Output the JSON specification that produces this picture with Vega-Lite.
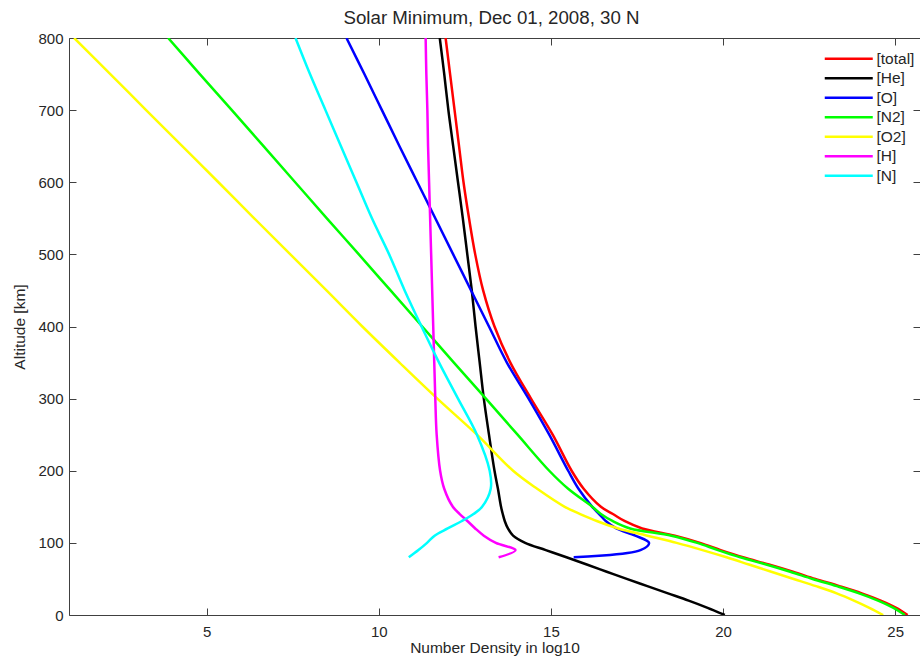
{
  "$schema": "https://vega.github.io/schema/vega-lite/v6.json",
  "autosize": {"type": "none"},
  "padding": {"left": 69, "top": 38, "right": 0, "bottom": 42},
  "width": 851,
  "height": 577,
  "background": "white",
  "config": {
    "view": {"stroke": null},
    "font": "Liberation Sans",
    "axis": {
      "domainColor": "#404040",
      "tickColor": "#404040",
      "labelColor": "#262626",
      "titleColor": "#262626",
      "labelFont": "Liberation Sans",
      "titleFont": "Liberation Sans",
      "labelFontSize": 15,
      "titleFontSize": 15.5,
      "titleFontWeight": "normal",
      "grid": false,
      "domainWidth": 1,
      "tickWidth": 1,
      "tickSize": -7
    }
  },
  "title": {
    "text": "Solar Minimum, Dec 01, 2008, 30 N",
    "font": "Liberation Sans",
    "fontSize": 18.7,
    "fontWeight": "normal",
    "color": "#262626",
    "frame": "group",
    "offset": 3,
    "dx": -3
  },
  "data": {
    "values": [
      {"s": "[total]", "alt": 0, "v": 25.36}, {"s": "[total]", "alt": 10, "v": 25.03}, {"s": "[total]", "alt": 20, "v": 24.58},
      {"s": "[total]", "alt": 30, "v": 24.03}, {"s": "[total]", "alt": 40, "v": 23.38}, {"s": "[total]", "alt": 50, "v": 22.68},
      {"s": "[total]", "alt": 60, "v": 22.03}, {"s": "[total]", "alt": 70, "v": 21.33}, {"s": "[total]", "alt": 80, "v": 20.58},
      {"s": "[total]", "alt": 90, "v": 19.93}, {"s": "[total]", "alt": 100, "v": 19.33}, {"s": "[total]", "alt": 110, "v": 18.6},
      {"s": "[total]", "alt": 120, "v": 17.65}, {"s": "[total]", "alt": 130, "v": 17.15}, {"s": "[total]", "alt": 140, "v": 16.8},
      {"s": "[total]", "alt": 150, "v": 16.45}, {"s": "[total]", "alt": 175, "v": 15.95}, {"s": "[total]", "alt": 200, "v": 15.6},
      {"s": "[total]", "alt": 250, "v": 15.05}, {"s": "[total]", "alt": 300, "v": 14.42}, {"s": "[total]", "alt": 350, "v": 13.82},
      {"s": "[total]", "alt": 400, "v": 13.36}, {"s": "[total]", "alt": 450, "v": 13.03}, {"s": "[total]", "alt": 500, "v": 12.8},
      {"s": "[total]", "alt": 550, "v": 12.62}, {"s": "[total]", "alt": 600, "v": 12.46}, {"s": "[total]", "alt": 650, "v": 12.33},
      {"s": "[total]", "alt": 700, "v": 12.2}, {"s": "[total]", "alt": 750, "v": 12.07}, {"s": "[total]", "alt": 800, "v": 11.94},

      {"s": "[He]", "alt": 0, "v": 20.05}, {"s": "[He]", "alt": 10, "v": 19.55}, {"s": "[He]", "alt": 20, "v": 19.0},
      {"s": "[He]", "alt": 30, "v": 18.4}, {"s": "[He]", "alt": 40, "v": 17.8}, {"s": "[He]", "alt": 50, "v": 17.2},
      {"s": "[He]", "alt": 60, "v": 16.62}, {"s": "[He]", "alt": 70, "v": 16.04}, {"s": "[He]", "alt": 80, "v": 15.45},
      {"s": "[He]", "alt": 90, "v": 14.85}, {"s": "[He]", "alt": 100, "v": 14.25}, {"s": "[He]", "alt": 110, "v": 13.9},
      {"s": "[He]", "alt": 120, "v": 13.75}, {"s": "[He]", "alt": 130, "v": 13.66}, {"s": "[He]", "alt": 140, "v": 13.6},
      {"s": "[He]", "alt": 150, "v": 13.55}, {"s": "[He]", "alt": 175, "v": 13.46}, {"s": "[He]", "alt": 200, "v": 13.36},
      {"s": "[He]", "alt": 250, "v": 13.2}, {"s": "[He]", "alt": 300, "v": 13.05}, {"s": "[He]", "alt": 350, "v": 12.93},
      {"s": "[He]", "alt": 400, "v": 12.81}, {"s": "[He]", "alt": 450, "v": 12.7}, {"s": "[He]", "alt": 500, "v": 12.57},
      {"s": "[He]", "alt": 550, "v": 12.44}, {"s": "[He]", "alt": 600, "v": 12.3}, {"s": "[He]", "alt": 650, "v": 12.16},
      {"s": "[He]", "alt": 700, "v": 12.02}, {"s": "[He]", "alt": 750, "v": 11.9}, {"s": "[He]", "alt": 800, "v": 11.77},

      {"s": "[O]", "alt": 80, "v": 15.66}, {"s": "[O]", "alt": 90, "v": 17.6}, {"s": "[O]", "alt": 100, "v": 17.85},
      {"s": "[O]", "alt": 110, "v": 17.45}, {"s": "[O]", "alt": 120, "v": 16.9}, {"s": "[O]", "alt": 130, "v": 16.6},
      {"s": "[O]", "alt": 140, "v": 16.4}, {"s": "[O]", "alt": 150, "v": 16.2}, {"s": "[O]", "alt": 175, "v": 15.8},
      {"s": "[O]", "alt": 200, "v": 15.5}, {"s": "[O]", "alt": 250, "v": 14.95}, {"s": "[O]", "alt": 300, "v": 14.35},
      {"s": "[O]", "alt": 350, "v": 13.72}, {"s": "[O]", "alt": 400, "v": 13.2}, {"s": "[O]", "alt": 450, "v": 12.68},
      {"s": "[O]", "alt": 500, "v": 12.16}, {"s": "[O]", "alt": 550, "v": 11.64}, {"s": "[O]", "alt": 600, "v": 11.12},
      {"s": "[O]", "alt": 650, "v": 10.6}, {"s": "[O]", "alt": 700, "v": 10.09}, {"s": "[O]", "alt": 750, "v": 9.58},
      {"s": "[O]", "alt": 800, "v": 9.06},

      {"s": "[N2]", "alt": 0, "v": 25.28}, {"s": "[N2]", "alt": 10, "v": 24.95}, {"s": "[N2]", "alt": 20, "v": 24.5},
      {"s": "[N2]", "alt": 30, "v": 23.95}, {"s": "[N2]", "alt": 40, "v": 23.3}, {"s": "[N2]", "alt": 50, "v": 22.6},
      {"s": "[N2]", "alt": 60, "v": 21.95}, {"s": "[N2]", "alt": 70, "v": 21.25}, {"s": "[N2]", "alt": 80, "v": 20.5},
      {"s": "[N2]", "alt": 90, "v": 19.85}, {"s": "[N2]", "alt": 100, "v": 19.25}, {"s": "[N2]", "alt": 110, "v": 18.5},
      {"s": "[N2]", "alt": 120, "v": 17.3}, {"s": "[N2]", "alt": 130, "v": 16.8}, {"s": "[N2]", "alt": 140, "v": 16.45},
      {"s": "[N2]", "alt": 150, "v": 16.2}, {"s": "[N2]", "alt": 175, "v": 15.5}, {"s": "[N2]", "alt": 200, "v": 14.95},
      {"s": "[N2]", "alt": 250, "v": 14.03}, {"s": "[N2]", "alt": 300, "v": 13.11}, {"s": "[N2]", "alt": 350, "v": 12.18},
      {"s": "[N2]", "alt": 400, "v": 11.26}, {"s": "[N2]", "alt": 450, "v": 10.34}, {"s": "[N2]", "alt": 500, "v": 9.42},
      {"s": "[N2]", "alt": 550, "v": 8.49}, {"s": "[N2]", "alt": 600, "v": 7.57}, {"s": "[N2]", "alt": 650, "v": 6.65},
      {"s": "[N2]", "alt": 700, "v": 5.73}, {"s": "[N2]", "alt": 750, "v": 4.8}, {"s": "[N2]", "alt": 800, "v": 3.88},

      {"s": "[O2]", "alt": 0, "v": 24.65}, {"s": "[O2]", "alt": 10, "v": 24.25}, {"s": "[O2]", "alt": 20, "v": 23.8},
      {"s": "[O2]", "alt": 30, "v": 23.3}, {"s": "[O2]", "alt": 40, "v": 22.7}, {"s": "[O2]", "alt": 50, "v": 22.05},
      {"s": "[O2]", "alt": 60, "v": 21.4}, {"s": "[O2]", "alt": 70, "v": 20.75}, {"s": "[O2]", "alt": 80, "v": 20.1},
      {"s": "[O2]", "alt": 90, "v": 19.4}, {"s": "[O2]", "alt": 100, "v": 18.65}, {"s": "[O2]", "alt": 110, "v": 17.8},
      {"s": "[O2]", "alt": 120, "v": 16.95}, {"s": "[O2]", "alt": 130, "v": 16.35}, {"s": "[O2]", "alt": 140, "v": 15.85},
      {"s": "[O2]", "alt": 150, "v": 15.4}, {"s": "[O2]", "alt": 175, "v": 14.6}, {"s": "[O2]", "alt": 200, "v": 13.9},
      {"s": "[O2]", "alt": 250, "v": 12.85}, {"s": "[O2]", "alt": 300, "v": 11.7}, {"s": "[O2]", "alt": 350, "v": 10.6},
      {"s": "[O2]", "alt": 400, "v": 9.52}, {"s": "[O2]", "alt": 450, "v": 8.48}, {"s": "[O2]", "alt": 500, "v": 7.43},
      {"s": "[O2]", "alt": 550, "v": 6.38}, {"s": "[O2]", "alt": 600, "v": 5.34}, {"s": "[O2]", "alt": 650, "v": 4.29},
      {"s": "[O2]", "alt": 700, "v": 3.24}, {"s": "[O2]", "alt": 750, "v": 2.2}, {"s": "[O2]", "alt": 800, "v": 1.15},

      {"s": "[H]", "alt": 80, "v": 13.48}, {"s": "[H]", "alt": 90, "v": 13.97}, {"s": "[H]", "alt": 100, "v": 13.4},
      {"s": "[H]", "alt": 110, "v": 13.05}, {"s": "[H]", "alt": 120, "v": 12.8}, {"s": "[H]", "alt": 130, "v": 12.58},
      {"s": "[H]", "alt": 140, "v": 12.35}, {"s": "[H]", "alt": 150, "v": 12.15}, {"s": "[H]", "alt": 175, "v": 11.9},
      {"s": "[H]", "alt": 200, "v": 11.78}, {"s": "[H]", "alt": 250, "v": 11.68}, {"s": "[H]", "alt": 300, "v": 11.64},
      {"s": "[H]", "alt": 350, "v": 11.61}, {"s": "[H]", "alt": 400, "v": 11.58}, {"s": "[H]", "alt": 450, "v": 11.55},
      {"s": "[H]", "alt": 500, "v": 11.52}, {"s": "[H]", "alt": 550, "v": 11.49}, {"s": "[H]", "alt": 600, "v": 11.46},
      {"s": "[H]", "alt": 650, "v": 11.43}, {"s": "[H]", "alt": 700, "v": 11.41}, {"s": "[H]", "alt": 750, "v": 11.38},
      {"s": "[H]", "alt": 800, "v": 11.36},

      {"s": "[N]", "alt": 80, "v": 10.87}, {"s": "[N]", "alt": 90, "v": 11.15}, {"s": "[N]", "alt": 100, "v": 11.4},
      {"s": "[N]", "alt": 110, "v": 11.62}, {"s": "[N]", "alt": 120, "v": 12.0}, {"s": "[N]", "alt": 130, "v": 12.4},
      {"s": "[N]", "alt": 140, "v": 12.75}, {"s": "[N]", "alt": 150, "v": 13.0}, {"s": "[N]", "alt": 175, "v": 13.25},
      {"s": "[N]", "alt": 200, "v": 13.22}, {"s": "[N]", "alt": 250, "v": 12.85}, {"s": "[N]", "alt": 300, "v": 12.3},
      {"s": "[N]", "alt": 350, "v": 11.75}, {"s": "[N]", "alt": 400, "v": 11.24}, {"s": "[N]", "alt": 450, "v": 10.75},
      {"s": "[N]", "alt": 500, "v": 10.3}, {"s": "[N]", "alt": 550, "v": 9.8}, {"s": "[N]", "alt": 600, "v": 9.35},
      {"s": "[N]", "alt": 650, "v": 8.9}, {"s": "[N]", "alt": 700, "v": 8.45}, {"s": "[N]", "alt": 750, "v": 8.0},
      {"s": "[N]", "alt": 800, "v": 7.58}
    ]
  },
  "layer": [
    {
      "mark": {"type": "line", "strokeWidth": 2.5, "clip": true, "interpolate": "catmull-rom"},
      "encoding": {
        "x": {
          "field": "v",
          "type": "quantitative",
          "scale": {"domain": [1, 25.72], "nice": false, "zero": false},
          "axis": {"orient": "bottom", "title": "Number Density in log10", "values": [5, 10, 15, 20, 25], "labelPadding": 16, "titlePadding": 1}
        },
        "y": {
          "field": "alt",
          "type": "quantitative",
          "scale": {"domain": [0, 800], "nice": false, "zero": false},
          "axis": {"orient": "left", "title": "Altitude [km]", "values": [0, 100, 200, 300, 400, 500, 600, 700, 800], "labelPadding": 13, "titlePadding": 10}
        },
        "color": {
          "field": "s",
          "type": "nominal",
          "scale": {
            "domain": ["[total]", "[He]", "[O]", "[N2]", "[O2]", "[H]", "[N]"],
            "range": ["#ff0000", "#000000", "#0000ff", "#00ff00", "#ffff00", "#ff00ff", "#00ffff"]
          },
          "legend": {
            "orient": "none",
            "legendX": 772,
            "legendY": 13,
            "title": null,
            "symbolType": "M-4,0H4",
            "symbolSize": 144,
            "symbolStrokeWidth": 2.5,
            "labelFontSize": 15.5,
            "labelFont": "Liberation Sans",
            "labelColor": "#262626",
            "labelOffset": 20,
            "rowPadding": 2.5,
            "padding": 0
          }
        },
        "order": {"field": "alt", "type": "quantitative"}
      }
    },
    {
      "mark": {"type": "line", "opacity": 0},
      "encoding": {
        "x": {
          "field": "v",
          "type": "quantitative",
          "axis": {"orient": "top", "labels": false, "title": null, "values": [5, 10, 15, 20, 25]}
        },
        "y": {
          "field": "alt",
          "type": "quantitative",
          "axis": {"orient": "right", "labels": false, "title": null, "values": [0, 100, 200, 300, 400, 500, 600, 700, 800]}
        },
        "order": {"field": "alt", "type": "quantitative"}
      }
    }
  ],
  "resolve": {"axis": {"x": "independent", "y": "independent"}}
}
